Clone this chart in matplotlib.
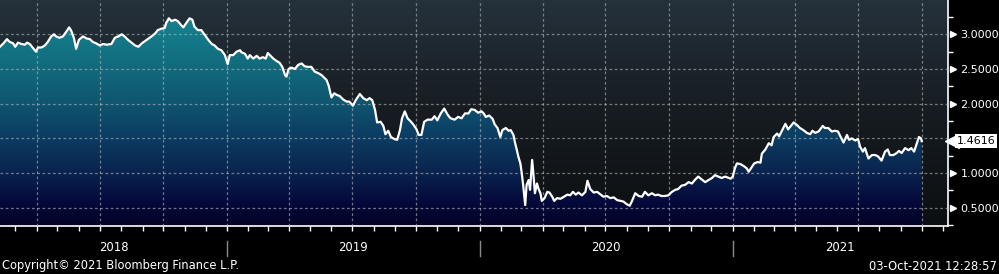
import matplotlib
matplotlib.use("Agg")
import matplotlib.pyplot as plt
import matplotlib.dates as mdates
import matplotlib.transforms as mtransforms
import numpy as np
import pandas as pd
from matplotlib.colors import LinearSegmentedColormap

# ── data ───────────────────────────────────────────────────────────────
dates = [
    "2018-02-07", "2018-02-12", "2018-02-17", "2018-02-21", "2018-02-26", "2018-03-01",
    "2018-03-05", "2018-03-10", "2018-03-15", "2018-03-18", "2018-03-22", "2018-03-27",
    "2018-03-31", "2018-04-03", "2018-04-08", "2018-04-13", "2018-04-17", "2018-04-22",
    "2018-04-26", "2018-04-29", "2018-05-04", "2018-05-09", "2018-05-14", "2018-05-18",
    "2018-05-21", "2018-05-25", "2018-05-28", "2018-06-01", "2018-06-07", "2018-06-12",
    "2018-06-17", "2018-06-21", "2018-06-26", "2018-07-01", "2018-07-06", "2018-07-11",
    "2018-07-18", "2018-07-23", "2018-07-28", "2018-08-02", "2018-08-06", "2018-08-11",
    "2018-08-16", "2018-08-21", "2018-08-26", "2018-08-31", "2018-09-07", "2018-09-14",
    "2018-09-19", "2018-09-23", "2018-09-28", "2018-10-03", "2018-10-05", "2018-10-09",
    "2018-10-13", "2018-10-18", "2018-10-22", "2018-10-27", "2018-10-30", "2018-11-03",
    "2018-11-08", "2018-11-12", "2018-11-15", "2018-11-20", "2018-11-25", "2018-11-30",
    "2018-12-05", "2018-12-10", "2018-12-14", "2018-12-19", "2018-12-24", "2018-12-29",
    "2019-01-02", "2019-01-05", "2019-01-10", "2019-01-15", "2019-01-20", "2019-01-22",
    "2019-01-27", "2019-01-31", "2019-02-03", "2019-02-08", "2019-02-13", "2019-02-17",
    "2019-02-22", "2019-02-26", "2019-03-01", "2019-03-05", "2019-03-09", "2019-03-13",
    "2019-03-18", "2019-03-22", "2019-03-26", "2019-03-28", "2019-03-31", "2019-04-04",
    "2019-04-09", "2019-04-14", "2019-04-19", "2019-04-23", "2019-04-28", "2019-05-03",
    "2019-05-08", "2019-05-13", "2019-05-18", "2019-05-21", "2019-05-25", "2019-05-28",
    "2019-06-01", "2019-06-05", "2019-06-08", "2019-06-13", "2019-06-18", "2019-06-23",
    "2019-06-27", "2019-07-02", "2019-07-06", "2019-07-12", "2019-07-17", "2019-07-22",
    "2019-07-26", "2019-07-30", "2019-08-03", "2019-08-06", "2019-08-11", "2019-08-15",
    "2019-08-18", "2019-08-22", "2019-08-26", "2019-08-31", "2019-09-04", "2019-09-08",
    "2019-09-11", "2019-09-15", "2019-09-19", "2019-09-24", "2019-09-28", "2019-10-02",
    "2019-10-05", "2019-10-09", "2019-10-13", "2019-10-18", "2019-10-24", "2019-10-28",
    "2019-11-01", "2019-11-06", "2019-11-11", "2019-11-16", "2019-11-20", "2019-11-26",
    "2019-12-01", "2019-12-06", "2019-12-11", "2019-12-16", "2019-12-20", "2019-12-25",
    "2019-12-30", "2020-01-04", "2020-01-07", "2020-01-10", "2020-01-15", "2020-01-20",
    "2020-01-23", "2020-01-27", "2020-01-31", "2020-02-03", "2020-02-08", "2020-02-12",
    "2020-02-15", "2020-02-19", "2020-02-21", "2020-02-24", "2020-02-26", "2020-02-29",
    "2020-03-02", "2020-03-04", "2020-03-07", "2020-03-09", "2020-03-12", "2020-03-14",
    "2020-03-17", "2020-03-19", "2020-03-21", "2020-03-24", "2020-03-26", "2020-03-29",
    "2020-03-31", "2020-04-04", "2020-04-08", "2020-04-11", "2020-04-15", "2020-04-18",
    "2020-04-22", "2020-04-27", "2020-05-02", "2020-05-07", "2020-05-11", "2020-05-15",
    "2020-05-19", "2020-05-23", "2020-05-28", "2020-06-02", "2020-06-05", "2020-06-09",
    "2020-06-14", "2020-06-19", "2020-06-24", "2020-06-28", "2020-07-03", "2020-07-08",
    "2020-07-13", "2020-07-18", "2020-07-23", "2020-07-27", "2020-08-01", "2020-08-05",
    "2020-08-08", "2020-08-13", "2020-08-18", "2020-08-23", "2020-08-27", "2020-09-01",
    "2020-09-06", "2020-09-11", "2020-09-15", "2020-09-20", "2020-09-25", "2020-09-30",
    "2020-10-05", "2020-10-10", "2020-10-14", "2020-10-19", "2020-10-24", "2020-10-29",
    "2020-11-03", "2020-11-07", "2020-11-12", "2020-11-17", "2020-11-22", "2020-11-27",
    "2020-12-02", "2020-12-06", "2020-12-11", "2020-12-16", "2020-12-21", "2020-12-29",
    "2021-01-01", "2021-01-04", "2021-01-07", "2021-01-12", "2021-01-17", "2021-01-21",
    "2021-01-24", "2021-01-28", "2021-02-01", "2021-02-06", "2021-02-10", "2021-02-12",
    "2021-02-17", "2021-02-22", "2021-02-26", "2021-03-01", "2021-03-06", "2021-03-09",
    "2021-03-13", "2021-03-18", "2021-03-22", "2021-03-26", "2021-03-30", "2021-04-04",
    "2021-04-08", "2021-04-13", "2021-04-18", "2021-04-23", "2021-04-26", "2021-04-30",
    "2021-05-05", "2021-05-11", "2021-05-14", "2021-05-19", "2021-05-24", "2021-05-29",
    "2021-06-02", "2021-06-06", "2021-06-10", "2021-06-15", "2021-06-18", "2021-06-22",
    "2021-06-27", "2021-07-01", "2021-07-04", "2021-07-08", "2021-07-11", "2021-07-16",
    "2021-07-21", "2021-07-26", "2021-07-30", "2021-08-04", "2021-08-09", "2021-08-13",
    "2021-08-16", "2021-08-21", "2021-08-26", "2021-08-29", "2021-09-02", "2021-09-07",
    "2021-09-12", "2021-09-16", "2021-09-20", "2021-09-24", "2021-09-27", "2021-09-30",
    "2021-10-01",
]
yields = [
    2.82, 2.87, 2.93, 2.89, 2.87, 2.82,
    2.88, 2.86, 2.85, 2.88, 2.86, 2.80,
    2.75, 2.81, 2.81, 2.84, 2.89, 2.97,
    3.00, 2.97, 2.95, 2.97, 3.04, 3.10,
    3.05, 2.94, 2.79, 2.92, 2.97, 2.94,
    2.93, 2.89, 2.87, 2.84, 2.86, 2.85,
    2.86, 2.95, 2.97, 3.00, 2.97, 2.92,
    2.88, 2.84, 2.82, 2.87, 2.92, 2.97,
    3.01, 3.06, 3.08, 3.09, 3.16, 3.23,
    3.19, 3.21, 3.19, 3.13, 3.10, 3.16,
    3.23, 3.21, 3.11, 3.06, 3.06, 2.99,
    2.92, 2.86, 2.84, 2.79, 2.77, 2.70,
    2.57, 2.70, 2.70, 2.75, 2.77, 2.74,
    2.72, 2.65, 2.70, 2.65, 2.69, 2.65,
    2.67, 2.65, 2.73, 2.69, 2.65, 2.62,
    2.59, 2.53, 2.41, 2.39, 2.50, 2.52,
    2.50, 2.56, 2.58, 2.54, 2.53, 2.53,
    2.46, 2.44, 2.41, 2.38, 2.34, 2.26,
    2.09, 2.15, 2.13, 2.11, 2.06, 2.03,
    2.03, 1.97, 2.05, 2.14, 2.08, 2.05,
    2.08, 2.05, 1.91, 1.73, 1.74, 1.68,
    1.56, 1.61, 1.52, 1.49, 1.48, 1.62,
    1.79, 1.89, 1.79, 1.74, 1.69, 1.63,
    1.55, 1.55, 1.74, 1.77, 1.77, 1.82,
    1.76, 1.86, 1.93, 1.84, 1.79, 1.77,
    1.81, 1.79, 1.86, 1.86, 1.92, 1.91,
    1.87, 1.89, 1.86, 1.81, 1.83, 1.78,
    1.70, 1.65, 1.52, 1.62, 1.65, 1.61,
    1.62, 1.55, 1.45, 1.33, 1.24, 1.14,
    1.00, 0.83, 0.54, 0.83, 0.90, 0.76,
    1.19, 0.97, 0.71, 0.85, 0.78, 0.71,
    0.60, 0.64, 0.73, 0.72, 0.66, 0.60,
    0.64, 0.63, 0.66, 0.69, 0.68, 0.73,
    0.69, 0.72, 0.68, 0.73, 0.89, 0.77,
    0.72, 0.73, 0.69, 0.66, 0.67, 0.64,
    0.65, 0.61, 0.60, 0.59, 0.55, 0.53,
    0.59, 0.71, 0.67, 0.66, 0.73, 0.68,
    0.71, 0.68, 0.69, 0.67, 0.67, 0.68,
    0.73, 0.76, 0.77, 0.82, 0.83, 0.87,
    0.85, 0.90, 0.95, 0.91, 0.87, 0.90,
    0.93, 0.97, 0.95, 0.93, 0.95, 0.92,
    0.95, 1.07, 1.14, 1.13, 1.10, 1.07,
    1.02, 1.08, 1.14, 1.16, 1.15, 1.28,
    1.34, 1.43, 1.40, 1.52, 1.57, 1.53,
    1.61, 1.71, 1.63, 1.68, 1.73, 1.69,
    1.65, 1.62, 1.58, 1.56, 1.61, 1.58,
    1.60, 1.68, 1.65, 1.65, 1.60, 1.61,
    1.60, 1.52, 1.44, 1.55, 1.48, 1.50,
    1.47, 1.49, 1.38, 1.31, 1.36, 1.21,
    1.26, 1.26, 1.24, 1.18, 1.31, 1.34,
    1.26, 1.26, 1.29, 1.32, 1.29, 1.36,
    1.33, 1.36, 1.31, 1.43, 1.52, 1.50,
    1.4616,
]
last_value = 1.4616
y_major = [0.5, 1.0, 1.5, 2.0, 2.5, 3.0]
y_minor = [0.25, 0.75, 1.25, 1.75, 2.25, 2.75, 3.25]
years = [2018, 2019, 2020, 2021]
x_start, x_end = "2018-02-07", "2021-11-08"
y_lo, y_hi = 0.238, 3.494
copyright_text = "Copyright\u00a9 2021 Bloomberg Finance L.P."
stamp_text = "03-Oct-2021 12:28:57"

dates = pd.to_datetime(dates)
x0, x1 = pd.Timestamp(x_start), pd.Timestamp(x_end)

W, H = 999, 274
fig = plt.figure(figsize=(W / 100, H / 100), dpi=100, facecolor="black")
rect = [0, 48 / H, 948 / W, 226 / H]

# background gradient (separate axes behind the plot)
bg = fig.add_axes(rect, zorder=0)
bg_cmap = LinearSegmentedColormap.from_list("bg", ["#0c0f12", "#161c21", "#25313b"])
bg.imshow(np.linspace(0, 1, 256).reshape(-1, 1), cmap=bg_cmap, aspect="auto",
          origin="lower", extent=(0, 1, 0, 1))
bg.set_axis_off()

ax = fig.add_axes(rect, zorder=1)
ax.patch.set_alpha(0)

# area fill with vertical gradient, clipped to the area under the line
poly = ax.fill_between(dates, yields, y_lo, facecolor="none", edgecolor="none")
fill_cmap = LinearSegmentedColormap.from_list(
    "fill",
    [(0.0, "#030326"), (0.1, "#05083a"), (0.25, "#0a2650"), (0.4, "#0c3d62"),
     (0.55, "#0f5670"), (0.75, "#127080"), (1.0, "#168a98")],
)
xn0, xn1 = mdates.date2num(x0), mdates.date2num(x1)
im = ax.imshow(np.linspace(0, 1, 256).reshape(-1, 1), cmap=fill_cmap, aspect="auto",
               origin="lower", extent=(xn0, xn1, y_lo, y_hi), zorder=1)
im.set_clip_path(poly.get_paths()[0], transform=ax.transData)

ax.plot(dates, yields, color="white", linewidth=1.6, zorder=3, solid_joinstyle="round")

ax.set_xlim(x0, x1)
ax.set_ylim(y_lo, y_hi)

# grid + ticks
ax.xaxis.set_major_locator(mdates.MonthLocator(bymonth=[1, 4, 7, 10]))
ax.xaxis.set_minor_locator(mdates.MonthLocator())
ax.tick_params(axis="x", which="both", direction="out", length=3.5, width=1,
               color="white", labelbottom=False)
ax.yaxis.tick_right()
ax.set_yticks(y_major)
ax.set_yticks(y_minor, minor=True)
ax.set_yticklabels(["" if abs(v - last_value) < 0.2 else f"{v:.4f}" for v in y_major])
ax.tick_params(axis="y", which="major", length=0, pad=9, labelsize=8, labelcolor="white")
ax.tick_params(axis="y", which="minor", direction="out", length=3.5, width=1, color="white")
ax.set_axisbelow(False)
ax.grid(which="major", color="#b8b8b8", alpha=0.6, linestyle=(0, (2.2, 2.0)), linewidth=0.9)

for side in ["left", "top"]:
    ax.spines[side].set_visible(False)
for side in ["bottom", "right"]:
    ax.spines[side].set_color("white")
    ax.spines[side].set_linewidth(1.2)

# small pointers next to the y labels
ytrans = mtransforms.blended_transform_factory(ax.transAxes, ax.transData)
ptr = ytrans + mtransforms.ScaledTranslation(4.5 / 100, 0, fig.dpi_scale_trans)
labelled = [v for v in y_major if abs(v - last_value) >= 0.2]
ax.plot([1.0] * len(labelled), labelled, linestyle="none", marker=">", markersize=4.5,
        color="white", transform=ptr, clip_on=False)

# last value tag
ax.annotate(f"{last_value:.4f}", xy=(1, last_value), xycoords=ytrans,
            xytext=(6.5, 0), textcoords="offset points", ha="left", va="center",
            fontsize=8, color="black",
            bbox=dict(boxstyle="square,pad=0.15", facecolor="white", edgecolor="none"))
tag = ytrans + mtransforms.ScaledTranslation(4.0 / 100, 0, fig.dpi_scale_trans)
ax.plot([1.0], [last_value], linestyle="none", marker="<", markersize=9.5,
        color="white", transform=tag, clip_on=False)

# year labels and separators below the axis
xtrans = mtransforms.blended_transform_factory(ax.transData, ax.transAxes)
for yr in years:
    a = max(pd.Timestamp(f"{yr}-01-01"), x0)
    b = min(pd.Timestamp(f"{yr + 1}-01-01"), x1)
    ax.text(a + (b - a) / 2, -0.097, str(yr), transform=xtrans, ha="center", va="center",
            fontsize=8.4, color="white")
    if yr > years[0]:
        ax.plot([pd.Timestamp(f"{yr}-01-01")] * 2, [-0.066, -0.133], color="#8a8a8a",
                linewidth=1, transform=xtrans, clip_on=False)

fig.text(2 / W, 1 - 266 / H, copyright_text, ha="left", va="center", fontsize=8.3, color="white")
fig.text(997 / W, 1 - 266 / H, stamp_text, ha="right", va="center", fontsize=8.3, color="white")

fig.savefig("out.png", dpi=100, facecolor="black")
